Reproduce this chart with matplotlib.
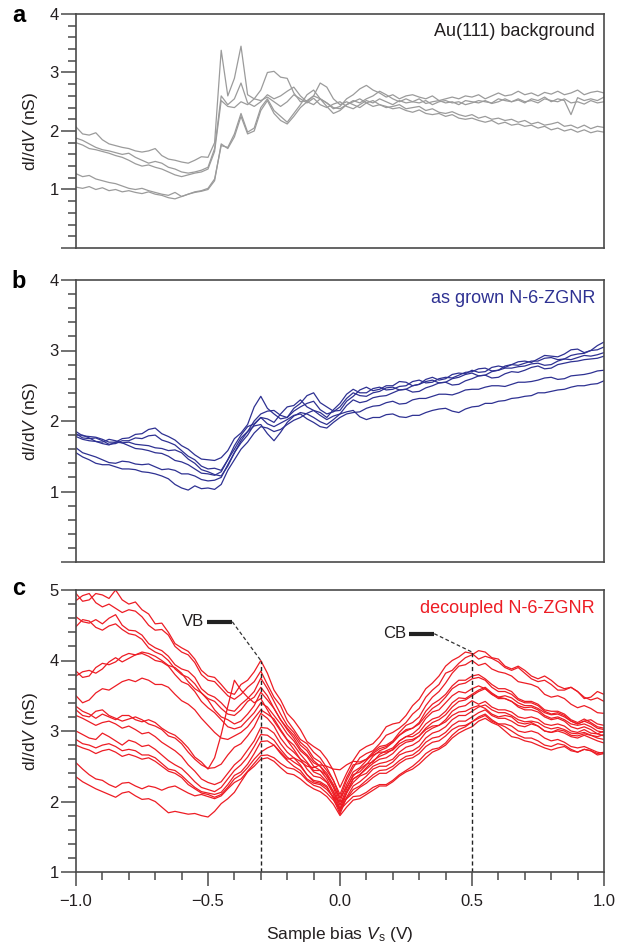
import numpy as np
import matplotlib
matplotlib.use('Agg')
import matplotlib.pyplot as plt
from matplotlib.ticker import MultipleLocator, FixedLocator

plt.rcParams['font.family'] = ['Liberation Sans', 'DejaVu Sans']
plt.rcParams['mathtext.fontset'] = 'custom'
plt.rcParams['mathtext.rm'] = 'Liberation Sans'
plt.rcParams['mathtext.it'] = 'Liberation Sans:italic'

# sample bias grid (V), 25 mV steps
bias = np.round(np.arange(-1.0, 1.0001, 0.025), 3)

# ---- a: Au(111) background, dI/dV in nS
au_1 = [2.07, 1.95, 1.93, 1.97, 1.85, 1.78, 1.75, 1.72, 1.70, 1.66,
        1.64, 1.66, 1.70, 1.58, 1.52, 1.50, 1.47, 1.45, 1.50, 1.56,
        1.55, 1.80, 3.38, 2.60, 2.90, 3.45, 2.62, 2.55, 2.52, 2.58,
        2.50, 2.42, 2.50, 2.62, 2.55, 2.48, 2.56, 2.45, 2.40, 2.46,
        2.50, 2.42, 2.38, 2.45, 2.52, 2.48, 2.55, 2.50, 2.45, 2.52,
        2.48, 2.50, 2.55, 2.47, 2.50, 2.52, 2.48, 2.50, 2.45, 2.52,
        2.50, 2.48, 2.52, 2.47, 2.50, 2.55, 2.50, 2.53, 2.48, 2.55,
        2.52, 2.58, 2.50, 2.55, 2.52, 2.28, 2.57, 2.52, 2.55, 2.52,
        2.58]
au_2 = [1.88, 1.84, 1.78, 1.72, 1.68, 1.66, 1.63, 1.60, 1.62, 1.55,
        1.50, 1.45, 1.48, 1.45, 1.38, 1.35, 1.30, 1.28, 1.30, 1.33,
        1.38, 1.70, 2.60, 2.45, 2.55, 2.82, 2.48, 2.42, 2.50, 2.62,
        2.55, 2.60, 2.68, 2.75, 2.60, 2.50, 2.45, 2.55, 2.48, 2.38,
        2.42, 2.55, 2.62, 2.72, 2.78, 2.70, 2.65, 2.58, 2.62, 2.55,
        2.60, 2.62, 2.58, 2.55, 2.60, 2.52, 2.55, 2.58, 2.55, 2.60,
        2.58, 2.62, 2.55, 2.60, 2.65, 2.60, 2.62, 2.68, 2.62, 2.65,
        2.60, 2.66, 2.63, 2.68, 2.62, 2.65, 2.70, 2.62, 2.66, 2.68,
        2.65]
au_3 = [1.80, 1.76, 1.70, 1.68, 1.65, 1.62, 1.58, 1.55, 1.50, 1.44,
        1.40, 1.42, 1.38, 1.35, 1.30, 1.25, 1.22, 1.25, 1.28, 1.30,
        1.35, 1.65, 2.52, 2.42, 2.40, 2.50, 2.45, 2.55, 2.70, 3.00,
        3.02, 2.92, 2.90, 2.65, 2.50, 2.52, 2.60, 2.55, 2.48, 2.40,
        2.38, 2.45, 2.50, 2.55, 2.48, 2.42, 2.45, 2.40, 2.42, 2.45,
        2.38, 2.40, 2.42, 2.35, 2.38, 2.32, 2.30, 2.33, 2.28, 2.25,
        2.28, 2.22, 2.25, 2.20, 2.22, 2.18, 2.20, 2.15, 2.18, 2.12,
        2.15, 2.10, 2.12, 2.15, 2.08, 2.10, 2.05, 2.10, 2.04, 2.08,
        2.06]
au_4 = [1.27, 1.22, 1.24, 1.18, 1.15, 1.12, 1.10, 1.06, 1.02, 1.00,
        1.02, 0.98, 0.95, 0.92, 0.90, 0.95, 0.88, 0.92, 0.96, 0.98,
        1.02, 1.18, 1.75, 1.72, 1.95, 2.30, 1.98, 2.05, 2.40, 2.55,
        2.35, 2.25, 2.15, 2.30, 2.45, 2.62, 2.70, 2.55, 2.42, 2.30,
        2.35, 2.45, 2.52, 2.48, 2.55, 2.60, 2.68, 2.62, 2.55, 2.50,
        2.55, 2.50, 2.48, 2.52, 2.45, 2.50, 2.52, 2.48, 2.50, 2.45,
        2.48, 2.52, 2.50, 2.48, 2.55, 2.52, 2.50, 2.55, 2.50, 2.52,
        2.48, 2.55, 2.52, 2.50, 2.55, 2.48, 2.50, 2.46, 2.52, 2.48,
        2.50]
au_5 = [1.04, 1.02, 1.05, 1.00, 1.03, 0.98, 1.00, 0.96, 0.98, 0.95,
        0.93, 0.96, 0.92, 0.90, 0.86, 0.84, 0.88, 0.92, 0.95, 0.97,
        1.00, 1.15, 1.78, 1.70, 1.90, 2.25, 1.95, 2.00, 2.35, 2.52,
        2.30, 2.18, 2.12, 2.25, 2.40, 2.50, 2.60, 2.82, 2.75, 2.55,
        2.45, 2.50, 2.45, 2.40, 2.48, 2.52, 2.45, 2.42, 2.38, 2.40,
        2.35, 2.32, 2.36, 2.30, 2.28, 2.30, 2.25, 2.28, 2.22, 2.20,
        2.22, 2.18, 2.15, 2.18, 2.12, 2.15, 2.10, 2.12, 2.08, 2.10,
        2.05, 2.08, 2.02, 2.05, 2.00, 2.03, 1.98, 2.02, 1.97, 2.00,
        1.98]

# ---- b: as grown N-6-ZGNR
grown_1 = [1.85, 1.79, 1.78, 1.77, 1.74, 1.70, 1.70, 1.75, 1.76, 1.81,
           1.82, 1.88, 1.90, 1.82, 1.78, 1.73, 1.65, 1.60, 1.52, 1.46,
           1.45, 1.44, 1.48, 1.58, 1.75, 1.83, 1.95, 2.20, 2.35, 2.18,
           2.10, 2.03, 2.05, 2.18, 2.25, 2.36, 2.40, 2.26, 2.20, 2.14,
           2.15, 2.28, 2.35, 2.44, 2.48, 2.43, 2.45, 2.50, 2.50, 2.56,
           2.55, 2.50, 2.52, 2.59, 2.62, 2.58, 2.60, 2.66, 2.68, 2.67,
           2.72, 2.69, 2.70, 2.76, 2.78, 2.76, 2.80, 2.84, 2.85, 2.83,
           2.88, 2.93, 2.92, 2.91, 2.95, 3.01, 3.02, 2.97, 3.00, 3.07,
           3.12]
grown_2 = [1.82, 1.76, 1.75, 1.76, 1.72, 1.67, 1.68, 1.72, 1.72, 1.76,
           1.75, 1.79, 1.80, 1.73, 1.70, 1.66, 1.58, 1.50, 1.45, 1.36,
           1.32, 1.33, 1.30, 1.45, 1.65, 1.80, 1.92, 1.96, 2.05, 2.03,
           1.98, 2.10, 2.20, 2.22, 2.30, 2.20, 2.15, 2.12, 2.05, 2.16,
           2.25, 2.38, 2.45, 2.40, 2.40, 2.46, 2.48, 2.44, 2.45, 2.49,
           2.50, 2.56, 2.58, 2.54, 2.55, 2.60, 2.62, 2.61, 2.65, 2.69,
           2.70, 2.74, 2.75, 2.71, 2.72, 2.78, 2.80, 2.79, 2.82, 2.85,
           2.85, 2.89, 2.90, 2.87, 2.88, 2.93, 2.95, 2.96, 3.00, 3.01,
           3.05]
grown_3 = [1.80, 1.80, 1.76, 1.71, 1.70, 1.74, 1.72, 1.69, 1.70, 1.67,
           1.66, 1.65, 1.62, 1.61, 1.58, 1.59, 1.55, 1.46, 1.40, 1.31,
           1.28, 1.24, 1.22, 1.36, 1.55, 1.72, 1.85, 2.00, 2.10, 2.14,
           2.15, 2.08, 2.05, 2.14, 2.20, 2.25, 2.28, 2.16, 2.10, 2.13,
           2.20, 2.32, 2.40, 2.36, 2.35, 2.40, 2.42, 2.47, 2.48, 2.44,
           2.45, 2.50, 2.52, 2.56, 2.58, 2.54, 2.55, 2.60, 2.62, 2.66,
           2.68, 2.64, 2.65, 2.70, 2.72, 2.75, 2.75, 2.77, 2.78, 2.81,
           2.82, 2.79, 2.80, 2.85, 2.88, 2.87, 2.90, 2.93, 2.92, 2.94,
           2.97]
grown_4 = [1.78, 1.74, 1.72, 1.71, 1.68, 1.66, 1.70, 1.69, 1.65, 1.61,
           1.60, 1.58, 1.55, 1.54, 1.50, 1.44, 1.42, 1.38, 1.32, 1.26,
           1.25, 1.23, 1.28, 1.45, 1.60, 1.76, 1.85, 1.93, 1.95, 1.82,
           1.72, 1.84, 1.98, 2.07, 2.12, 2.10, 2.05, 1.99, 1.95, 2.02,
           2.10, 2.22, 2.30, 2.26, 2.28, 2.33, 2.35, 2.36, 2.40, 2.44,
           2.45, 2.41, 2.42, 2.47, 2.50, 2.54, 2.55, 2.51, 2.52, 2.57,
           2.60, 2.64, 2.65, 2.61, 2.62, 2.67, 2.70, 2.69, 2.72, 2.76,
           2.78, 2.74, 2.75, 2.80, 2.82, 2.84, 2.85, 2.87, 2.88, 2.89,
           2.92]
grown_5 = [1.62, 1.55, 1.52, 1.49, 1.45, 1.41, 1.40, 1.43, 1.42, 1.39,
           1.38, 1.39, 1.35, 1.31, 1.32, 1.30, 1.25, 1.25, 1.22, 1.17,
           1.15, 1.16, 1.20, 1.38, 1.55, 1.69, 1.80, 1.95, 2.05, 1.96,
           1.92, 1.97, 2.02, 2.08, 2.10, 2.03, 1.98, 1.92, 1.90, 1.98,
           2.05, 2.10, 2.12, 2.13, 2.18, 2.21, 2.22, 2.26, 2.28, 2.24,
           2.25, 2.30, 2.32, 2.32, 2.35, 2.38, 2.38, 2.37, 2.40, 2.44,
           2.45, 2.45, 2.48, 2.50, 2.50, 2.49, 2.52, 2.55, 2.55, 2.56,
           2.58, 2.61, 2.62, 2.59, 2.60, 2.64, 2.65, 2.66, 2.68, 2.71,
           2.72]
grown_6 = [1.55, 1.49, 1.45, 1.40, 1.38, 1.38, 1.35, 1.32, 1.32, 1.31,
           1.28, 1.27, 1.25, 1.22, 1.18, 1.10, 1.05, 1.02, 1.08, 1.04,
           1.05, 1.03, 1.10, 1.30, 1.45, 1.60, 1.70, 1.83, 1.92, 1.90,
           1.85, 1.88, 1.95, 2.01, 2.05, 2.11, 2.15, 2.08, 2.02, 2.07,
           2.10, 2.13, 2.15, 2.06, 2.02, 2.05, 2.05, 2.09, 2.10, 2.06,
           2.05, 2.08, 2.08, 2.12, 2.15, 2.17, 2.18, 2.14, 2.12, 2.17,
           2.20, 2.21, 2.25, 2.25, 2.28, 2.29, 2.32, 2.33, 2.35, 2.36,
           2.40, 2.40, 2.42, 2.44, 2.45, 2.48, 2.50, 2.50, 2.52, 2.53,
           2.57]

# ---- c: decoupled N-6-ZGNR
dec_1 = [4.95, 4.84, 4.86, 4.95, 4.93, 4.88, 5.00, 4.86, 4.80, 4.83,
         4.72, 4.66, 4.52, 4.53, 4.40, 4.24, 4.18, 4.13, 4.02, 3.86,
         3.78, 3.76, 3.66, 3.55, 3.52, 3.66, 3.72, 3.84, 4.00, 3.82,
         3.58, 3.44, 3.25, 3.15, 3.02, 2.85, 2.78, 2.72, 2.60, 2.44,
         2.20, 2.40, 2.58, 2.72, 2.78, 2.82, 2.92, 3.06, 3.10, 3.12,
         3.22, 3.36, 3.45, 3.60, 3.68, 3.78, 3.92, 4.00, 4.05, 4.12,
         4.10, 4.02, 4.06, 4.03, 3.98, 3.90, 3.86, 3.90, 3.82, 3.74,
         3.70, 3.72, 3.66, 3.58, 3.58, 3.62, 3.56, 3.46, 3.48, 3.56,
         3.52]
dec_2 = [4.85, 4.92, 4.95, 4.82, 4.76, 4.80, 4.74, 4.68, 4.72, 4.70,
         4.62, 4.50, 4.43, 4.44, 4.36, 4.20, 4.12, 4.08, 3.97, 3.80,
         3.72, 3.70, 3.60, 3.50, 3.45, 3.52, 3.62, 3.70, 3.85, 3.66,
         3.48, 3.36, 3.15, 3.02, 2.88, 2.82, 2.70, 2.62, 2.48, 2.30,
         2.05, 2.30, 2.48, 2.62, 2.68, 2.72, 2.82, 2.94, 2.98, 3.04,
         3.12, 3.24, 3.32, 3.48, 3.58, 3.66, 3.82, 3.86, 3.96, 4.04,
         4.08, 4.14, 4.12, 4.04, 4.02, 3.92, 3.88, 3.92, 3.86, 3.78,
         3.74, 3.78, 3.72, 3.64, 3.60, 3.62, 3.56, 3.48, 3.44, 3.47,
         3.42]
dec_3 = [4.62, 4.55, 4.53, 4.58, 4.52, 4.60, 4.65, 4.50, 4.43, 4.42,
         4.36, 4.24, 4.18, 4.14, 4.06, 3.94, 3.88, 3.85, 3.76, 3.60,
         3.52, 3.48, 3.40, 3.30, 3.28, 3.38, 3.46, 3.56, 3.75, 3.60,
         3.42, 3.24, 3.08, 2.98, 2.84, 2.76, 2.62, 2.56, 2.44, 2.30,
         2.10, 2.34, 2.52, 2.54, 2.60, 2.70, 2.78, 2.80, 2.86, 2.98,
         3.08, 3.12, 3.20, 3.36, 3.48, 3.56, 3.68, 3.82, 3.92, 3.94,
         4.00, 3.93, 3.96, 3.88, 3.84, 3.82, 3.78, 3.70, 3.68, 3.66,
         3.62, 3.52, 3.48, 3.50, 3.46, 3.38, 3.33, 3.36, 3.32, 3.26,
         3.25]
dec_4 = [4.48, 4.58, 4.56, 4.47, 4.43, 4.49, 4.52, 4.44, 4.38, 4.36,
         4.30, 4.18, 4.12, 4.08, 4.00, 3.88, 3.80, 3.76, 3.67, 3.54,
         3.46, 3.42, 3.32, 3.24, 3.22, 3.30, 3.42, 3.48, 3.62, 3.50,
         3.32, 3.16, 3.04, 2.94, 2.80, 2.72, 2.58, 2.50, 2.36, 2.20,
         1.95, 2.18, 2.38, 2.42, 2.52, 2.64, 2.72, 2.76, 2.84, 2.94,
         3.00, 3.04, 3.12, 3.28, 3.38, 3.44, 3.52, 3.64, 3.72, 3.72,
         3.78, 3.80, 3.74, 3.66, 3.60, 3.60, 3.56, 3.46, 3.42, 3.42,
         3.38, 3.30, 3.28, 3.28, 3.24, 3.16, 3.12, 3.17, 3.12, 3.06,
         3.04]
dec_5 = [3.85, 3.76, 3.78, 3.90, 3.96, 3.94, 3.98, 4.06, 4.10, 4.08,
         4.12, 4.10, 4.06, 4.00, 3.93, 3.90, 3.82, 3.70, 3.60, 3.54,
         3.44, 3.30, 3.20, 3.16, 3.10, 3.14, 3.24, 3.36, 3.55, 3.44,
         3.32, 3.16, 3.02, 2.90, 2.75, 2.66, 2.55, 2.50, 2.40, 2.24,
         2.00, 2.24, 2.42, 2.48, 2.58, 2.68, 2.75, 2.78, 2.84, 2.94,
         3.02, 3.04, 3.10, 3.22, 3.32, 3.38, 3.48, 3.60, 3.66, 3.68,
         3.74, 3.76, 3.72, 3.62, 3.56, 3.56, 3.52, 3.44, 3.40, 3.40,
         3.36, 3.28, 3.24, 3.26, 3.22, 3.14, 3.10, 3.14, 3.10, 3.04,
         3.02]
dec_6 = [3.78, 3.84, 3.86, 3.82, 3.88, 3.98, 4.04, 3.98, 4.03, 4.08,
         4.10, 4.06, 4.00, 3.98, 3.92, 3.80, 3.70, 3.66, 3.56, 3.42,
         3.33, 3.26, 3.16, 3.06, 3.03, 3.06, 3.16, 3.26, 3.40, 3.34,
         3.22, 3.10, 2.96, 2.86, 2.72, 2.64, 2.50, 2.44, 2.32, 2.14,
         1.90, 2.14, 2.32, 2.38, 2.48, 2.58, 2.64, 2.68, 2.74, 2.86,
         2.92, 2.96, 3.04, 3.18, 3.27, 3.30, 3.40, 3.50, 3.56, 3.54,
         3.60, 3.64, 3.60, 3.52, 3.48, 3.46, 3.42, 3.36, 3.33, 3.34,
         3.30, 3.22, 3.18, 3.20, 3.16, 3.10, 3.08, 3.10, 3.06, 3.00,
         2.98]
dec_7 = [3.50, 3.40, 3.44, 3.54, 3.60, 3.58, 3.64, 3.70, 3.73, 3.70,
         3.75, 3.72, 3.66, 3.66, 3.62, 3.52, 3.43, 3.38, 3.30, 3.18,
         3.08, 2.98, 2.90, 2.88, 2.93, 2.98, 3.06, 3.18, 3.30, 3.24,
         3.17, 3.02, 2.88, 2.80, 2.67, 2.56, 2.44, 2.44, 2.37, 2.22,
         2.05, 2.20, 2.36, 2.46, 2.53, 2.56, 2.67, 2.72, 2.76, 2.86,
         2.92, 2.92, 2.98, 3.10, 3.17, 3.20, 3.28, 3.40, 3.47, 3.46,
         3.52, 3.58, 3.62, 3.54, 3.48, 3.50, 3.47, 3.40, 3.36, 3.36,
         3.32, 3.26, 3.23, 3.24, 3.20, 3.14, 3.10, 3.14, 3.16, 3.10,
         3.08]
dec_8 = [3.35, 3.28, 3.24, 3.18, 3.24, 3.20, 3.16, 3.22, 3.22, 3.16,
         3.13, 3.16, 3.12, 3.04, 2.98, 2.94, 2.86, 2.76, 2.63, 2.56,
         2.46, 2.62, 2.95, 3.35, 3.72, 3.58, 3.48, 3.40, 3.46, 3.30,
         3.14, 3.00, 2.87, 2.74, 2.60, 2.54, 2.42, 2.38, 2.28, 2.10,
         1.85, 2.12, 2.32, 2.38, 2.46, 2.54, 2.60, 2.62, 2.68, 2.78,
         2.84, 2.86, 2.93, 3.04, 3.12, 3.16, 3.23, 3.34, 3.42, 3.44,
         3.50, 3.56, 3.60, 3.52, 3.46, 3.46, 3.42, 3.34, 3.30, 3.30,
         3.27, 3.20, 3.16, 3.18, 3.14, 3.06, 3.03, 3.06, 3.02, 2.96,
         2.93]
dec_9 = [3.30, 3.22, 3.20, 3.28, 3.30, 3.22, 3.18, 3.14, 3.17, 3.20,
         3.16, 3.10, 3.07, 3.02, 2.93, 2.90, 2.82, 2.70, 2.60, 2.52,
         2.47, 2.48, 2.53, 2.66, 2.77, 2.82, 2.93, 3.06, 3.25, 3.18,
         3.07, 2.90, 2.78, 2.70, 2.60, 2.46, 2.36, 2.34, 2.27, 2.14,
         1.95, 2.12, 2.27, 2.36, 2.40, 2.50, 2.54, 2.56, 2.60, 2.70,
         2.77, 2.80, 2.86, 2.98, 3.04, 3.08, 3.16, 3.28, 3.34, 3.36,
         3.43, 3.38, 3.42, 3.34, 3.30, 3.30, 3.27, 3.20, 3.18, 3.20,
         3.17, 3.10, 3.08, 3.10, 3.07, 3.00, 2.98, 3.02, 2.97, 2.96,
         3.00]
dec_10 = [3.22, 3.18, 3.13, 3.08, 3.12, 3.14, 3.10, 3.04, 3.07, 3.02,
          2.96, 2.98, 2.92, 2.84, 2.78, 2.72, 2.64, 2.52, 2.43, 2.32,
          2.27, 2.24, 2.28, 2.40, 2.52, 2.60, 2.73, 2.86, 3.05, 3.04,
          2.97, 2.82, 2.70, 2.62, 2.52, 2.38, 2.30, 2.28, 2.22, 2.04,
          1.82, 2.06, 2.22, 2.28, 2.36, 2.46, 2.50, 2.50, 2.56, 2.66,
          2.70, 2.72, 2.78, 2.90, 2.97, 3.00, 3.06, 3.16, 3.22, 3.22,
          3.28, 3.34, 3.37, 3.30, 3.26, 3.26, 3.22, 3.16, 3.13, 3.14,
          3.12, 3.06, 3.03, 3.05, 3.02, 2.97, 2.96, 2.98, 2.94, 2.90,
          2.88]
dec_11 = [3.00, 2.95, 2.90, 2.88, 2.97, 2.92, 2.86, 2.80, 2.87, 2.84,
          2.78, 2.80, 2.74, 2.66, 2.58, 2.52, 2.47, 2.38, 2.28, 2.20,
          2.17, 2.14, 2.20, 2.32, 2.44, 2.52, 2.63, 2.78, 2.95, 2.94,
          2.87, 2.74, 2.63, 2.56, 2.50, 2.38, 2.28, 2.26, 2.20, 2.06,
          1.90, 2.04, 2.17, 2.22, 2.30, 2.38, 2.44, 2.45, 2.50, 2.58,
          2.64, 2.66, 2.73, 2.84, 2.90, 2.92, 2.98, 3.08, 3.14, 3.14,
          3.20, 3.26, 3.30, 3.22, 3.18, 3.18, 3.14, 3.08, 3.06, 3.10,
          3.07, 3.00, 2.98, 3.00, 2.97, 2.92, 2.90, 2.94, 2.90, 2.86,
          2.83]
dec_12 = [2.88, 2.82, 2.80, 2.76, 2.80, 2.82, 2.78, 2.72, 2.74, 2.72,
          2.66, 2.66, 2.62, 2.54, 2.46, 2.44, 2.37, 2.28, 2.20, 2.14,
          2.12, 2.10, 2.13, 2.24, 2.37, 2.42, 2.53, 2.68, 2.85, 2.86,
          2.80, 2.68, 2.58, 2.50, 2.44, 2.32, 2.26, 2.24, 2.17, 2.06,
          2.00, 2.04, 2.12, 2.20, 2.26, 2.34, 2.40, 2.40, 2.46, 2.54,
          2.60, 2.62, 2.68, 2.78, 2.84, 2.86, 2.93, 3.02, 3.07, 3.08,
          3.13, 3.18, 3.22, 3.14, 3.10, 3.10, 3.07, 3.00, 2.98, 3.00,
          2.97, 2.90, 2.86, 2.88, 2.84, 2.78, 2.76, 2.78, 2.74, 2.70,
          2.68]
dec_13 = [2.80, 2.76, 2.73, 2.68, 2.72, 2.74, 2.70, 2.64, 2.67, 2.64,
          2.60, 2.62, 2.57, 2.50, 2.43, 2.40, 2.34, 2.24, 2.18, 2.12,
          2.10, 2.06, 2.10, 2.20, 2.32, 2.38, 2.48, 2.60, 2.70, 2.76,
          2.80, 2.70, 2.60, 2.62, 2.57, 2.50, 2.48, 2.52, 2.50, 2.46,
          2.45, 2.52, 2.57, 2.56, 2.60, 2.66, 2.70, 2.70, 2.73, 2.82,
          2.87, 2.88, 2.93, 3.02, 3.07, 3.08, 3.13, 3.22, 3.27, 3.28,
          3.33, 3.36, 3.32, 3.24, 3.20, 3.22, 3.20, 3.12, 3.10, 3.12,
          3.07, 3.00, 2.98, 3.02, 3.00, 2.94, 2.93, 2.96, 2.94, 2.92,
          2.95]
dec_14 = [2.55, 2.46, 2.38, 2.32, 2.30, 2.24, 2.20, 2.26, 2.27, 2.22,
          2.18, 2.22, 2.20, 2.16, 2.20, 2.22, 2.17, 2.12, 2.08, 2.10,
          2.07, 2.04, 2.08, 2.18, 2.27, 2.32, 2.43, 2.54, 2.65, 2.66,
          2.62, 2.54, 2.48, 2.46, 2.40, 2.30, 2.23, 2.20, 2.12, 2.02,
          1.88, 1.98, 2.07, 2.08, 2.13, 2.20, 2.24, 2.24, 2.30, 2.38,
          2.44, 2.50, 2.58, 2.68, 2.74, 2.76, 2.83, 2.94, 3.02, 3.06,
          3.13, 3.20, 3.24, 3.16, 3.10, 3.06, 3.00, 2.94, 2.90, 2.90,
          2.86, 2.80, 2.78, 2.82, 2.80, 2.74, 2.70, 2.74, 2.72, 2.66,
          2.68]
dec_15 = [2.35, 2.28, 2.23, 2.18, 2.14, 2.10, 2.06, 2.12, 2.14, 2.08,
          2.03, 2.04, 2.00, 1.92, 1.84, 1.86, 1.84, 1.82, 1.83, 1.80,
          1.78, 1.86, 1.97, 2.04, 2.13, 2.28, 2.42, 2.50, 2.60, 2.62,
          2.57, 2.48, 2.40, 2.38, 2.32, 2.24, 2.18, 2.14, 2.07, 1.96,
          1.80, 1.92, 2.02, 2.04, 2.10, 2.16, 2.22, 2.22, 2.28, 2.36,
          2.42, 2.46, 2.53, 2.62, 2.70, 2.74, 2.80, 2.90, 2.97, 3.02,
          3.06, 3.14, 3.18, 3.12, 3.08, 3.00, 2.92, 2.90, 2.86, 2.84,
          2.80, 2.76, 2.73, 2.76, 2.78, 2.72, 2.70, 2.74, 2.72, 2.68,
          2.70]

vb_bias, vb_peak = -0.3, 4.0
cb_bias, cb_peak = 0.5, 4.12

au_curves = [au_1, au_2, au_3, au_4, au_5]
grown_curves = [grown_1, grown_2, grown_3, grown_4, grown_5, grown_6]
dec_curves = [dec_1, dec_2, dec_3, dec_4, dec_5, dec_6, dec_7, dec_8,
              dec_9, dec_10, dec_11, dec_12, dec_13, dec_14, dec_15]

GREY = '#9b9b9b'
BLUE = '#2e3192'
RED = '#ed1c24'
AXC = '#4a4a4a'
TXT = '#231f20'

fig = plt.figure(figsize=(6.19, 9.51), dpi=100)
L, W = 76 / 619, 528 / 619
ax_a = fig.add_axes([L, 1 - 248 / 951, W, 234 / 951])
ax_b = fig.add_axes([L, 1 - 562 / 951, W, 282 / 951])
ax_c = fig.add_axes([L, 1 - 872 / 951, W, 282 / 951])


def style(ax, ylo, yhi, show_zero):
    ax.set_xlim(-1, 1)
    ax.set_ylim(ylo, yhi)
    for s in ax.spines.values():
        s.set_color(AXC)
        s.set_linewidth(1.2)
    ticks = list(range(ylo, yhi + 1))
    ax.yaxis.set_major_locator(FixedLocator(ticks))
    ax.set_yticklabels([str(t) if (t != 0 or show_zero) else '' for t in ticks])
    ax.yaxis.set_minor_locator(MultipleLocator(0.2))
    ax.tick_params(axis='y', which='major', direction='out', length=11, width=1.1,
                   color=AXC, labelsize=12, labelcolor=TXT, pad=1.5)
    ax.tick_params(axis='y', which='minor', direction='out', length=6, width=1.1, color=AXC)
    ax.set_ylabel('d$\\mathit{I}$/d$\\mathit{V}$ (nS)', fontsize=12.5, color=TXT, labelpad=7)


for y in au_curves:
    ax_a.plot(bias, y, color=GREY, lw=0.9)
for y in grown_curves:
    ax_b.plot(bias, y, color=BLUE, lw=0.9)
for y in dec_curves:
    ax_c.plot(bias, y, color=RED, lw=0.9)

style(ax_a, 0, 4, False)
style(ax_b, 0, 4, False)
style(ax_c, 1, 5, True)
for ax in (ax_a, ax_b):
    ax.set_xticks([])

ax_c.xaxis.set_minor_locator(MultipleLocator(0.1))
ax_c.set_xticks([-1.0, -0.5, 0.0, 0.5, 1.0])
ax_c.set_xticklabels(['\u22121.0', '\u22120.5', '0.0', '0.5', '1.0'])
ax_c.tick_params(axis='x', which='major', direction='out', length=10, width=1.1,
                 color=AXC, labelsize=12, labelcolor=TXT, pad=6)
ax_c.tick_params(axis='x', which='minor', direction='out', length=6, width=1.1, color=AXC)
ax_c.set_xlabel('Sample bias $\\mathit{V}_{\\mathrm{s}}$ (V)', fontsize=12.5, color=TXT, labelpad=11)

ax_a.text(0.983, 0.927, 'Au(111) background', transform=ax_a.transAxes,
          ha='right', va='center', fontsize=13, color=TXT)
ax_b.text(0.983, 0.936, 'as grown N-6-ZGNR', transform=ax_b.transAxes,
          ha='right', va='center', fontsize=13, color=BLUE)
ax_c.text(0.983, 0.936, 'decoupled N-6-ZGNR', transform=ax_c.transAxes,
          ha='right', va='center', fontsize=13, color=RED)

# band markers
dash = (0, (3, 2))
ax_c.plot([-0.503, -0.408], [4.55, 4.55], color='#222222', lw=3, solid_capstyle='butt')
ax_c.plot([-0.408, vb_bias], [4.55, vb_peak], color='#333333', lw=0.9, ls=dash)
ax_c.plot([vb_bias, vb_bias], [1, vb_peak], color='#222222', lw=1.0, ls=dash)
ax_c.text(-0.515, 4.55, 'VB', ha='right', va='center', fontsize=12, color=TXT)
ax_c.plot([0.262, 0.357], [4.38, 4.38], color='#222222', lw=3, solid_capstyle='butt')
ax_c.plot([0.357, cb_bias], [4.38, cb_peak], color='#333333', lw=0.9, ls=dash)
ax_c.plot([cb_bias, cb_bias], [1, cb_peak], color='#222222', lw=1.0, ls=dash)
ax_c.text(0.25, 4.38, 'CB', ha='right', va='center', fontsize=12, color=TXT)

for lab, yy in (('a', 0.9837), ('b', 0.7035), ('c', 0.381)):
    fig.text(0.019, yy, lab, fontsize=17, fontweight='bold', ha='left', va='center',
             family=['Liberation Sans Narrow', 'Liberation Sans', 'DejaVu Sans'])

fig.savefig('out.png', dpi=100)
